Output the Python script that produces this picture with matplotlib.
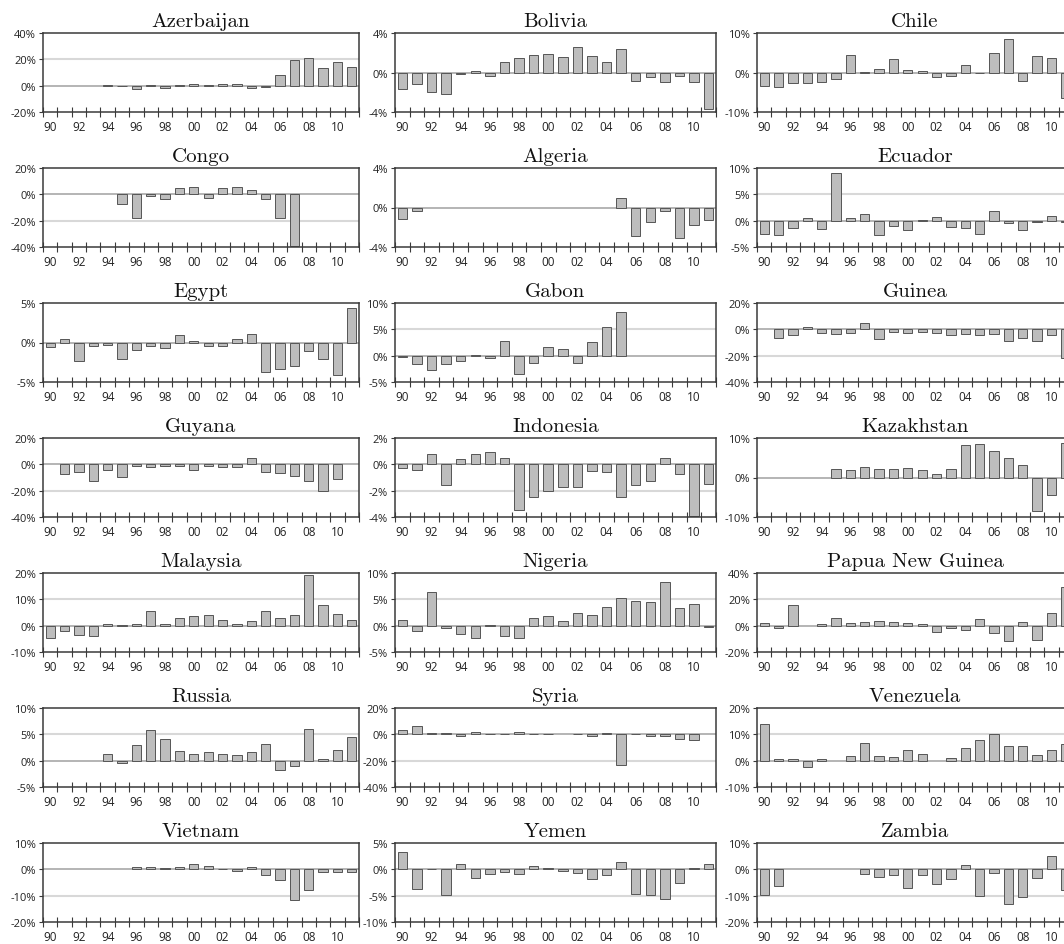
import numpy as np
import matplotlib
matplotlib.use("Agg")
import matplotlib.pyplot as plt
from matplotlib.ticker import FixedLocator, FixedFormatter

nan = np.nan

# ---------------- data ----------------
years = list(range(1990, 2012))
year_labels = [f"{y % 100:02d}" for y in years]

countries = ["Azerbaijan", "Bolivia", "Chile",
             "Congo", "Algeria", "Ecuador",
             "Egypt", "Gabon", "Guinea",
             "Guyana", "Indonesia", "Kazakhstan",
             "Malaysia", "Nigeria", "Papua New Guinea",
             "Russia", "Syria", "Venezuela",
             "Vietnam", "Yemen", "Zambia"]

# y-axis (min, max, step) in percent
y_ranges = [(-20, 40, 20), (-4, 4, 4), (-10, 10, 10),
            (-40, 20, 20), (-4, 4, 4), (-5, 10, 5),
            (-5, 5, 5), (-5, 10, 5), (-40, 20, 20),
            (-40, 20, 20), (-4, 2, 2), (-10, 10, 10),
            (-10, 20, 10), (-5, 10, 5), (-20, 40, 20),
            (-5, 10, 5), (-40, 20, 20), (-10, 20, 10),
            (-20, 10, 10), (-10, 5, 5), (-20, 10, 10)]

azerbaijan = [nan, nan, nan, nan, 0.7, -0.3, -2.5, 0.5, -1.5, 0.3, 1.2, 0.5,
              1.5, 1.3, -1.5, -1.0, 8.3, 19.6, 20.9, 13.6, 18.1, 14.4]
bolivia = [-1.7, -1.2, -2.0, -2.15, -0.2, 0.2, -0.35, 1.1, 1.5, 1.75, 1.85, 1.6,
           2.55, 1.7, 1.1, 2.4, -0.85, -0.5, -1.0, -0.4, -1.0, -3.7]
chile = [-3.4, -3.7, -2.7, -2.55, -2.3, -1.6, 4.4, 0.1, 0.85, 3.3, 0.6, 0.5,
         -1.2, -0.8, 1.9, -0.25, 5.0, 8.4, -2.1, 4.3, 3.7, -6.4]
congo = [nan, nan, nan, nan, nan, -7.0, -17.6, -1.2, -3.7, 4.5, 5.8, -2.5,
         4.8, 5.3, 3.3, -3.3, -18.0, -39.5, nan, nan, nan, nan]
algeria = [-1.2, -0.35, nan, nan, nan, nan, nan, nan, nan, nan, nan, nan,
           nan, nan, nan, 1.0, -2.9, -1.5, -0.35, -3.1, -1.8, -1.3]
ecuador = [-2.6, -2.8, -1.4, 0.5, -1.5, 9.0, 0.5, 1.3, -2.7, -1.0, -1.7, 0.2,
           0.7, -1.2, -1.3, -2.6, 1.9, -0.4, -1.7, -0.2, 0.8, -0.3]
egypt = [-0.6, 0.4, -2.4, -0.4, -0.3, -2.1, -1.0, -0.5, -0.7, 1.0, 0.2, -0.4,
         -0.4, 0.5, 1.1, -3.7, -3.3, -3.0, -1.1, -2.1, -4.1, 4.4]
gabon = [-0.2, -1.5, -2.8, -1.5, -1.1, 0.2, -0.5, 2.8, -3.5, -1.4, 1.6, 1.2,
         -1.3, 2.6, 5.5, 8.2, nan, nan, nan, nan, nan, nan]
guinea = [nan, -6.5, -4.0, 2.0, -3.0, -3.5, -3.0, 4.5, -7.5, -2.0, -2.5, -2.0,
          -2.5, -4.0, -3.5, -4.0, -3.5, -8.5, -6.5, -8.5, -4.0, -22.0]
guyana = [nan, -7.5, -6.0, -12.5, -4.5, -9.5, -1.5, -2.0, -1.0, -1.5, -4.5, -1.5,
          -2.0, -2.0, 5.0, -6.0, -6.5, -9.0, -12.5, -20.5, -11.0, nan]
indonesia = [-0.3, -0.4, 0.8, -1.6, 0.4, 0.8, 0.9, 0.45, -3.5, -2.5, -2.0, -1.7,
             -1.7, -0.5, -0.6, -2.5, -1.6, -1.3, 0.45, -0.7, -3.9, -1.5]
kazakhstan = [nan, nan, nan, nan, nan, 2.1, 1.8, 2.7, 2.1, 2.1, 2.4, 1.9,
              0.8, 2.1, 8.2, 8.6, 6.8, 5.0, 3.2, -8.6, -4.4, 8.8]
malaysia = [-4.5, -2.0, -3.5, -3.8, 0.5, 0.3, 0.8, 5.5, 0.8, 3.0, 3.5, 4.0,
            2.0, 0.5, 1.8, 5.5, 2.8, 4.2, 19.2, 8.0, 4.5, 2.2]
nigeria = [1.1, -1.0, 6.4, -0.4, -1.6, -2.4, 0.1, -2.0, -2.4, 1.5, 1.9, 0.9,
           2.5, 2.1, 3.6, 5.2, 4.7, 4.4, 8.2, 3.3, 4.2, -0.2]
papua_new_guinea = [2.0, -1.5, 15.5, nan, 1.0, 5.8, 2.0, 2.5, 3.5, 2.5, 2.0, 1.5,
                    -4.5, -1.5, -3.5, 5.0, -5.5, -12.0, 2.5, -11.0, 9.5, 29.0]
russia = [nan, nan, nan, nan, 1.3, -0.4, 2.9, 5.8, 4.1, 1.8, 1.3, 1.6,
          1.3, 1.1, 1.6, 3.1, -1.8, -1.0, 6.1, 0.4, 2.0, 4.5]
syria = [3.5, 6.5, 1.0, 0.8, -1.5, 1.5, 0.5, 0.5, 2.0, 0.5, 0.5, nan,
         0.5, -1.0, 1.0, -23.0, 0.5, -1.5, -1.5, -3.5, -4.0, nan]
venezuela = [14.0, 0.5, 0.5, -2.3, 0.5, nan, 1.8, 6.8, 1.8, 1.5, 4.2, 2.5,
             nan, 1.0, 5.0, 7.8, 10.2, 5.4, 5.5, 2.2, 3.9, 6.5]
vietnam = [nan, nan, nan, nan, nan, nan, 0.8, 0.8, 0.6, 1.0, 2.2, 1.2,
           0.1, -0.7, 0.9, -2.2, -4.2, -11.8, -7.8, -0.9, -1.2, -0.9]
yemen = [3.2, -3.7, 0.1, -4.8, 1.0, -1.7, -0.9, -0.5, -0.8, 0.6, 0.3, -0.4,
         -0.7, -1.8, -1.0, 1.3, -4.6, -4.8, -5.7, -2.6, 0.2, 1.1]
zambia = [-9.6, -6.2, nan, nan, nan, nan, nan, -1.6, -2.8, -2.2, -7.2, -2.2,
          -5.6, -3.5, 1.8, -10.0, -1.5, -13.2, -10.6, -3.2, 5.2, -8.0]

series = [azerbaijan, bolivia, chile, congo, algeria, ecuador, egypt, gabon,
          guinea, guyana, indonesia, kazakhstan, malaysia, nigeria,
          papua_new_guinea, russia, syria, venezuela, vietnam, yemen, zambia]

# ---------------- layout ----------------
W, H = 1064, 945
fig = plt.figure(figsize=(W / 100, H / 100), dpi=100)

col_left = [43, 395, 757]
col_width = [316, 321, 316]
row_top0, row_pitch, ax_h = 34, 135, 79

frame_col = "#3a3a3a"
label_font = "Open Sans"

x = np.arange(len(years))
for i, (name, vals, (lo, hi, step)) in enumerate(zip(countries, series, y_ranges)):
    r, c = divmod(i, 3)
    left = col_left[c]
    top = row_top0 + r * row_pitch
    ax = fig.add_axes([left / W, 1 - (top + ax_h) / H, col_width[c] / W, ax_h / H])

    ax.set_xlim(-0.5, len(years) - 0.5)
    ax.set_ylim(lo, hi)

    yt = np.arange(lo, hi + step / 2, step)
    for v in yt:
        if lo < v < hi:
            ax.axhline(v, color="#a8a8a8" if v == 0 else "#d8d8d8",
                       lw=1.2 if v == 0 else 1.5, zorder=0.5)

    ax.bar(x, vals, width=0.65, color="#bdbdbd", edgecolor="#555555",
           linewidth=0.7, zorder=2)

    ax.xaxis.set_major_locator(FixedLocator(x))
    ax.xaxis.set_major_formatter(FixedFormatter(
        [lbl if k % 2 == 0 else "" for k, lbl in enumerate(year_labels)]))
    ax.xaxis.set_minor_locator(FixedLocator(np.arange(-0.5, len(years), 1.0)))
    ax.tick_params(axis="x", which="minor", direction="inout", length=7,
                   width=0.8, color=frame_col)
    ax.tick_params(axis="x", which="major", length=0, pad=6,
                   labelsize=8.5, labelcolor="#222222")

    ax.yaxis.set_major_locator(FixedLocator(yt))
    ax.yaxis.set_major_formatter(FixedFormatter([f"{int(v)}%" for v in yt]))
    ax.tick_params(axis="y", direction="out", length=3, width=0.8,
                   color=frame_col, labelsize=8, labelcolor="#222222", pad=2)

    for lab in ax.get_xticklabels() + ax.get_yticklabels():
        lab.set_fontfamily(label_font)

    for sp in ax.spines.values():
        sp.set_color(frame_col)
        sp.set_linewidth(1.1)

    ax.set_title(name, fontfamily="cmr10", fontsize=15, pad=5, color="#111111")

fig.savefig("out.png", dpi=100)
